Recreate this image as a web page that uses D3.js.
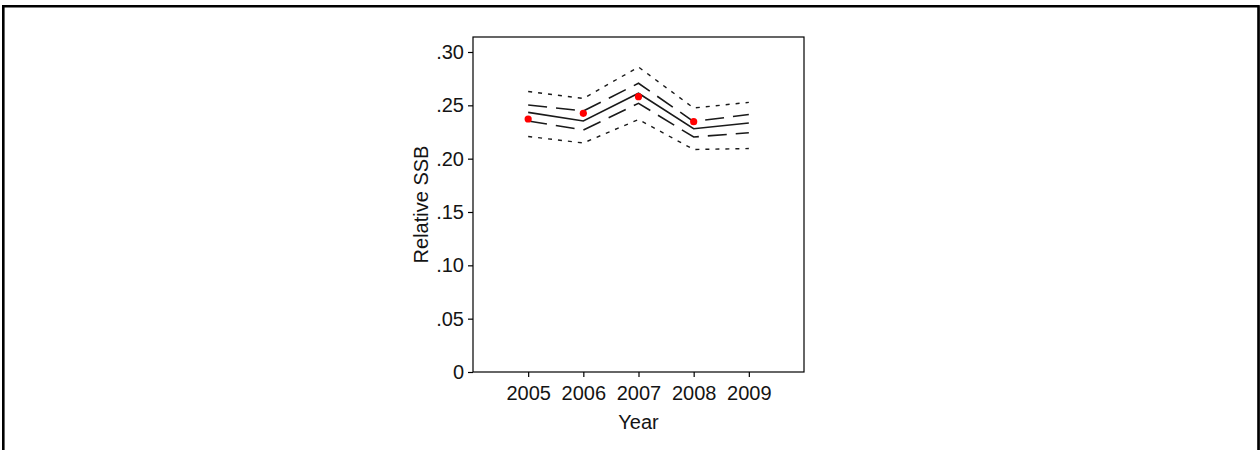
<!DOCTYPE html>
<html><head><meta charset="utf-8">
<script src="https://cdn.jsdelivr.net/npm/d3@7"></script>
<style>html,body{margin:0;padding:0;background:#fff;}svg{display:block;}</style>
</head><body>
<svg id="c" width="1260" height="450"></svg>
<script>
const years = [2005, 2006, 2007, 2008, 2009];
const center = [0.2434, 0.2353, 0.2613, 0.2281, 0.2334];
const innerUpper = [0.2503, 0.2447, 0.2707, 0.2348, 0.2414];
const innerLower = [0.2353, 0.2269, 0.2519, 0.2203, 0.2243];
const outerUpper = [0.2630, 0.2564, 0.2859, 0.2475, 0.2528];
const outerLower = [0.2208, 0.2147, 0.2367, 0.2086, 0.2095];
const pointYears = [2005, 2006, 2007, 2008];
const pointValues = [0.2372, 0.2425, 0.2581, 0.2347];
const yTicks = [0, 0.05, 0.10, 0.15, 0.20, 0.25, 0.30];
const yTickLabels = ["0", ".05", ".10", ".15", ".20", ".25", ".30"];

const svg = d3.select("#c");
const font = "'Liberation Sans', Arial, sans-serif";
const fs = 20;
const L = 473, R = 804, T = 37, B = 372;

const x = d3.scaleLinear().domain([2004, 2010]).range([L, R]);
const y = d3.scaleLinear().domain([0, 0.3]).range([B, 52]);

// outer page border
svg.append("path").attr("d", "M3.3,450 V6.3 H1258.5 V450")
  .attr("fill", "none").attr("stroke", "#000").attr("stroke-width", 2.6);
svg.append("line").attr("x1", 1258.8).attr("x2", 1258.8).attr("y1", 6).attr("y2", 450)
  .attr("stroke", "#000").attr("stroke-width", 1.2);

// plot frame
svg.append("rect").attr("x", L).attr("y", T).attr("width", R - L).attr("height", B - T)
  .attr("fill", "none").attr("stroke", "#000").attr("stroke-width", 1.2);

// y axis
const yAxis = d3.axisLeft(y).tickValues(yTicks).tickSize(5).tickPadding(4)
  .tickFormat((d, i) => yTickLabels[i]);
const gy = svg.append("g").attr("transform", `translate(${L},0)`).call(yAxis);
gy.select(".domain").remove();
gy.selectAll("line").attr("stroke", "#000").attr("stroke-width", 1.2);
gy.selectAll("text").attr("font-family", font).attr("font-size", fs).attr("fill", "#141414");

// x axis
const xAxis = d3.axisBottom(x).tickValues(years).tickSize(5).tickPadding(9)
  .tickFormat(d3.format("d"));
const gx = svg.append("g").attr("transform", `translate(0,${B})`).call(xAxis);
gx.select(".domain").remove();
gx.selectAll("line").attr("stroke", "#000").attr("stroke-width", 1.2);
gx.selectAll("text").attr("font-family", font).attr("font-size", fs).attr("fill", "#141414");

// axis titles
svg.append("text").attr("x", x(2007)).attr("y", 429).attr("text-anchor", "middle")
  .attr("font-family", font).attr("font-size", fs).attr("fill", "#141414").text("Year");
svg.append("text").attr("transform", `translate(428,${(T + B) / 2}) rotate(-90)`)
  .attr("text-anchor", "middle").attr("font-family", font).attr("font-size", fs)
  .attr("fill", "#141414").text("Relative SSB");

// lines
const line = d3.line().x((d, i) => x(years[i])).y(d => y(d));
const series = [
  {v: outerUpper, dash: "4,6", w: 1.4},
  {v: outerLower, dash: "4,6", w: 1.4},
  {v: innerUpper, dash: "19,9", w: 1.6},
  {v: innerLower, dash: "19,9", w: 1.6},
  {v: center, dash: null, w: 1.6}
];
series.forEach(s => {
  const p = svg.append("path").attr("d", line(s.v)).attr("fill", "none")
    .attr("stroke", "#1a1a1a").attr("stroke-width", s.w);
  if (s.dash) p.attr("stroke-dasharray", s.dash);
});

// points
svg.selectAll("circle.pt").data(pointValues).enter().append("circle")
  .attr("class", "pt")
  .attr("cx", (d, i) => x(pointYears[i])).attr("cy", d => y(d)).attr("r", 3.6)
  .attr("fill", "#ff0000");
</script>
</body></html>
